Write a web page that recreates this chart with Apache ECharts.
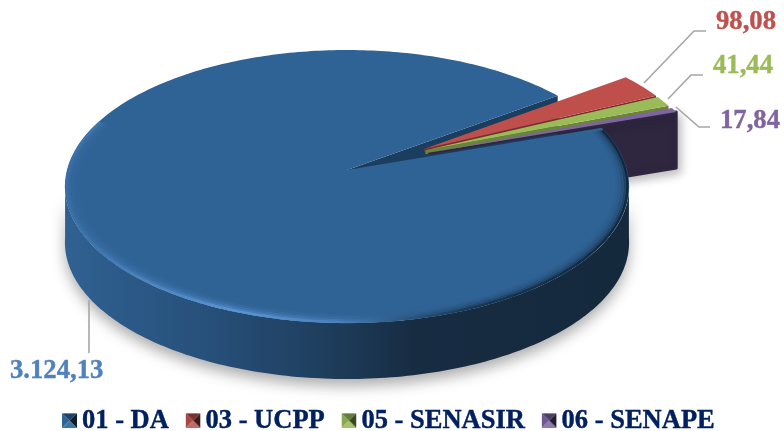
<!DOCTYPE html>
<html>
<head>
<meta charset="utf-8">
<style>html,body{margin:0;padding:0;background:#fff}#c{width:784px;height:431px}</style>
<script src="https://cdn.jsdelivr.net/npm/echarts@6/dist/echarts.min.js"></script>
</head>
<body>
<div id="c"></div>
<script>
// ---- data ----
const categories = ['01 - DA', '03 - UCPP', '05 - SENASIR', '06 - SENAPE'];
const values = [3124.13, 98.08, 41.44, 17.84];
const valueLabels = ['3.124,13', '98,08', '41,44', '17,84'];

// ---- styles ----
const topColors = ['#2F6396', '#BE4F4B', '#9BBB59', '#8064A2'];
const wallColors = ['#1B3D5F', '#7A2E2C', '#6A8438', '#2F2640'];
const labelColors = ['#4F81BD', '#C0504D', '#9BBB59', '#8064A2'];
const legendShades = [
  ['#2F6396', '#1F4266', '#0E1D2D', '#41749F'],
  ['#A84644', '#7A3230', '#3F1A19', '#C06A68'],
  ['#8AA84C', '#647C38', '#3A4720', '#A5C16E'],
  ['#6F5890', '#4E3E66', '#251D30', '#8E78AC']
];
// ---- projection and layout ----
const view = {cx: 347, cy: 170, kx: 280, ky: 134.5, p: 0.121, depth: 56, startDeg: 71};
const explodeOffsets = [[0, 0], [0.28, 0.16], [0.285, 0.15], [0.295, 0.13]];
const cutDepths = [0, 3, 4, 2];
const labelLayout = [
  {x: 10, y: 371, line: [[89, 300], [89, 353]]},
  {x: 716, y: 22, line: [[644, 83], [694, 31], [706, 31]]},
  {x: 713, y: 66, line: [[668, 99], [691, 75], [703, 75]]},
  {x: 720, y: 121, line: [[676, 107], [699, 127], [710, 127]]}
];
const labelFont = 'bold 26.67px "Liberation Serif"';

const rad = d => d * Math.PI / 180;
const total = values.reduce((a, b) => a + b, 0);
const spans = [];
{ let a = view.startDeg;
  values.forEach(v => { const s = v / total * 360; spans.push([a, a + s]); a += s; }); }

function proj(u, c, dy) {
  const w = 1 + view.p * c;
  return [view.cx + view.kx * u / w, view.cy - view.ky * c / w + (dy || 0)];
}
function rimPt(deg, off, r, dy) {
  const R = r === undefined ? 1 : r;
  return proj(off[0] + R * Math.sin(rad(deg)), off[1] + R * Math.cos(rad(deg)), dy);
}
function arc(a, b, off, r, dy) {
  const pts = [], n = Math.max(2, Math.ceil(Math.abs(b - a)));
  for (let i = 0; i <= n; i++) pts.push(rimPt(a + (b - a) * i / n, off, r, dy));
  return pts;
}
function sliceTop(i) {
  const off = explodeOffsets[i];
  return [proj(off[0], off[1])].concat(arc(spans[i][0], spans[i][1], off));
}
function cutWall(i, deg, depth) {
  const off = explodeOffsets[i];
  return [proj(off[0], off[1]), rimPt(deg, off), rimPt(deg, off, 1, depth), proj(off[0], off[1], depth)];
}
function label(i) {
  const l = labelLayout[i];
  return [
    {type: 'polyline', shape: {points: l.line}, style: {stroke: '#A6A6A6', lineWidth: 1.6, fill: null}},
    {type: 'text', style: {x: l.x, y: l.y, text: valueLabels[i], font: labelFont, fill: labelColors[i], stroke: labelColors[i], lineWidth: 0.4, verticalAlign: 'middle', align: 'left'}}
  ];
}
function grad(stops) {
  return new echarts.graphic.LinearGradient(64, 0, 630, 0, stops.map(c => ({offset: c[0], color: c[1]})), true);
}
const wallFill = [[0, '#2F6192'], [0.25, '#27507A'], [0.45, '#1F3F5F'], [0.62, '#172C42'], [1, '#15293D']];
const rimStops = [[0, '#3A6EA6'], [0.12, '#4A82BE'], [0.3, '#5C96D8'], [0.48, '#4C84C0'], [0.6, '#2A5680'], [0.72, '#183450'], [1, '#10253A']];

function renderPurpleWall() {
  return {type: 'group', children: [
    {type: 'polygon', shape: {points: cutWall(3, spans[3][1], view.depth)},
     style: {fill: wallColors[3], stroke: wallColors[3], lineWidth: 3, lineJoin: 'round',
             shadowBlur: 10, shadowOffsetY: 4, shadowOffsetX: 3, shadowColor: 'rgba(0,0,0,0.25)'}}
  ]};
}
function renderMain() {
  const off = explodeOffsets[0];
  const top = arc(95, 265, off);
  const bottom = arc(95, 265, off, 1, view.depth).reverse();
  const children = [
    {type: 'polygon', shape: {points: cutWall(0, spans[0][1], view.depth)}, style: {fill: wallColors[0]}},
    {type: 'polygon', shape: {points: top.concat(bottom)},
     style: {fill: grad(wallFill), shadowBlur: 14, shadowOffsetY: 7, shadowColor: 'rgba(0,0,0,0.32)'}},
    {type: 'polygon', shape: {points: sliceTop(0)}, style: {fill: topColors[0]}}
  ];
  [[0.994, 0.95, 2.5], [0.985, 0.5, 2.5], [0.975, 0.28, 2.5], [0.965, 0.14, 2.5], [0.955, 0.06, 2.5]].forEach(s => {
    children.push({type: 'polyline', shape: {points: arc(72, 292, off, s[0])},
      style: {fill: null, stroke: grad(rimStops), lineWidth: s[2], opacity: s[1]}});
  });
  return {type: 'group', children: children.concat(label(0))};
}
function renderExploded(i) {
  const children = [];
  children.push({type: 'polygon', shape: {points: cutWall(i, spans[i][1], cutDepths[i])}, style: {fill: wallColors[i]}});
  children.push({type: 'polygon', shape: {points: sliceTop(i)}, style: {fill: topColors[i]}});
  return {type: 'group', children: children.concat(label(i))};
}

function legendPattern(shades) {
  const s = 15, cv = document.createElement('canvas');
  cv.width = s; cv.height = s;
  const g = cv.getContext('2d'), m = s / 2;
  const tri = (pts, col) => { g.fillStyle = col; g.beginPath(); g.moveTo(m, m); pts.forEach(p => g.lineTo(p[0], p[1])); g.closePath(); g.fill(); };
  tri([[0, 0], [0, s]], shades[0]);
  tri([[0, 0], [s, 0]], shades[1]);
  tri([[s, 0], [s, s]], shades[2]);
  tri([[0, s], [s, s]], shades[3]);
  return {image: cv, repeat: 'no-repeat'};
}

const chart = echarts.init(document.getElementById('c'), null, {renderer: 'canvas'});
const custom = (name, fn) => ({type: 'custom', name, coordinateSystem: 'none', silent: true, animation: false, clip: false,
  data: [[values[categories.indexOf(name)]]], renderItem: fn});

chart.setOption({
  animation: false,
  backgroundColor: '#fff',
  legend: {
    left: 62, top: 407, icon: 'rect', itemWidth: 15, itemHeight: 15, itemGap: 16.5, padding: 0, selectedMode: false,
    textStyle: {fontFamily: 'Liberation Serif', fontWeight: 'bold', fontSize: 26.5, color: '#002060', textBorderColor: '#002060', textBorderWidth: 0.4},
    data: categories.map((n, i) => ({name: n, itemStyle: {color: legendPattern(legendShades[i])}}))
  },
  series: [
    custom(categories[3], renderPurpleWall),
    custom(categories[0], renderMain),
    custom(categories[1], () => renderExploded(1)),
    custom(categories[2], () => renderExploded(2)),
    custom(categories[3], () => renderExploded(3))
  ]
});
</script>
</body>
</html>
